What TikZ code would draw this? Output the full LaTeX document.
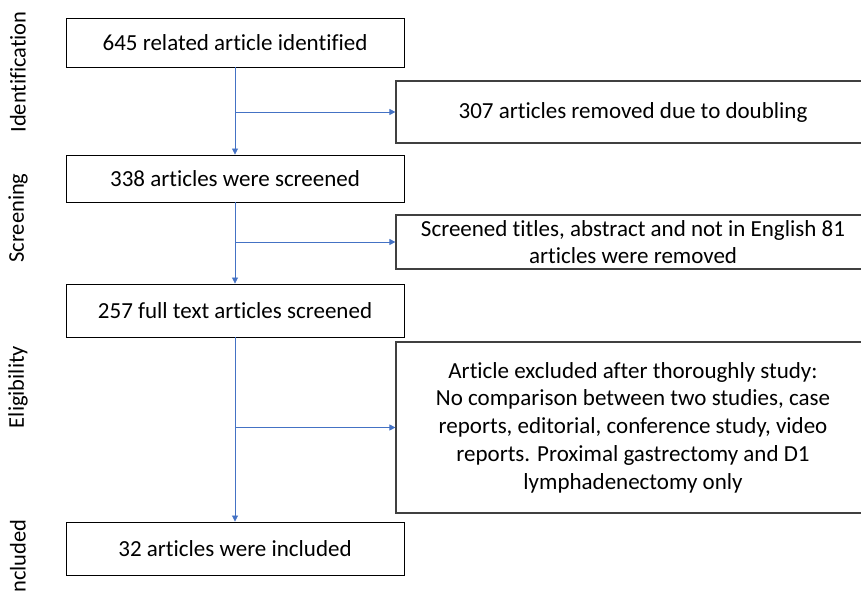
\documentclass[tikz,border=0pt]{standalone}
\usepackage{fontspec}
\setmainfont{Carlito}[Ligatures=NoCommon]
\usetikzlibrary{arrows.meta,positioning}
\definecolor{flowblue}{HTML}{4472C4}
\begin{document}
\begin{tikzpicture}[x=1pt, y=-1pt,
    box/.style={draw, line width=0.9pt, minimum width=338pt, inner sep=0pt,
      font=\fontsize{23}{27.7}\selectfont},
    sidebox/.style={draw=black!75, line width=1.2pt, minimum width=474pt,
      align=center, inner sep=0pt, font=\fontsize{23}{27.7}\selectfont},
    phase/.style={rotate=90, font=\fontsize{22.5}{27}\selectfont},
    flow/.style={draw=flowblue, line width=0.8pt, -{Triangle[length=6pt,width=6pt]}}]
    \useasboundingbox (0,0) rectangle (861,593);
    \clip (0,0) rectangle (861,593);
    % phase labels
    \node (pid) [phase] at (18,72) {Identification};
    \node (psc) [phase] at (18,218) {Screening};
    \node (pel) [phase] at (18,387) {Eligibility};
    \node (pin) [phase] at (18,559) {Included};
    % main column
    \node (l1) [box, minimum height=49pt] at (235,42.5) {645 related article identified};
    \node (l2) [box, minimum height=47pt] at (235,178.5) {338 articles were screened};
    \node (l3) [box, minimum height=53pt] at (235,310.5) {257 full text articles screened};
    \node (l4) [box, minimum height=53pt] at (235,548.5) {32 articles were included};
    % removed records
    \node (r1) [sidebox, minimum height=62pt] at (633,112) {307 articles removed due to doubling};
    \node (r2) [sidebox, minimum height=54pt] at (633,242)
      {Screened titles, abstract and not in English 81\\articles were removed};
    \node (r3) [sidebox, minimum height=171pt] at (633,427.5)
      {Article excluded after thoroughly study:\\No comparison between two studies, case\\reports, editorial, conference study, video\\reports. Proximal gastrectomy and D1\\lymphadenectomy only};
    \coordinate (s1) at (l1.south |- r1.west);
    \coordinate (s2) at (l2.south |- r2.west);
    \coordinate (s3) at (l3.south |- r3.west);
    \draw[flow] (l1) -- (l2);
    \draw[flow] (l2) -- (l3);
    \draw[flow] (l3) -- (l4);
    \draw[flow] (s1) -- (r1);
    \draw[flow] (s2) -- (r2);
    \draw[flow] (s3) -- (r3);
\end{tikzpicture}
\end{document}
